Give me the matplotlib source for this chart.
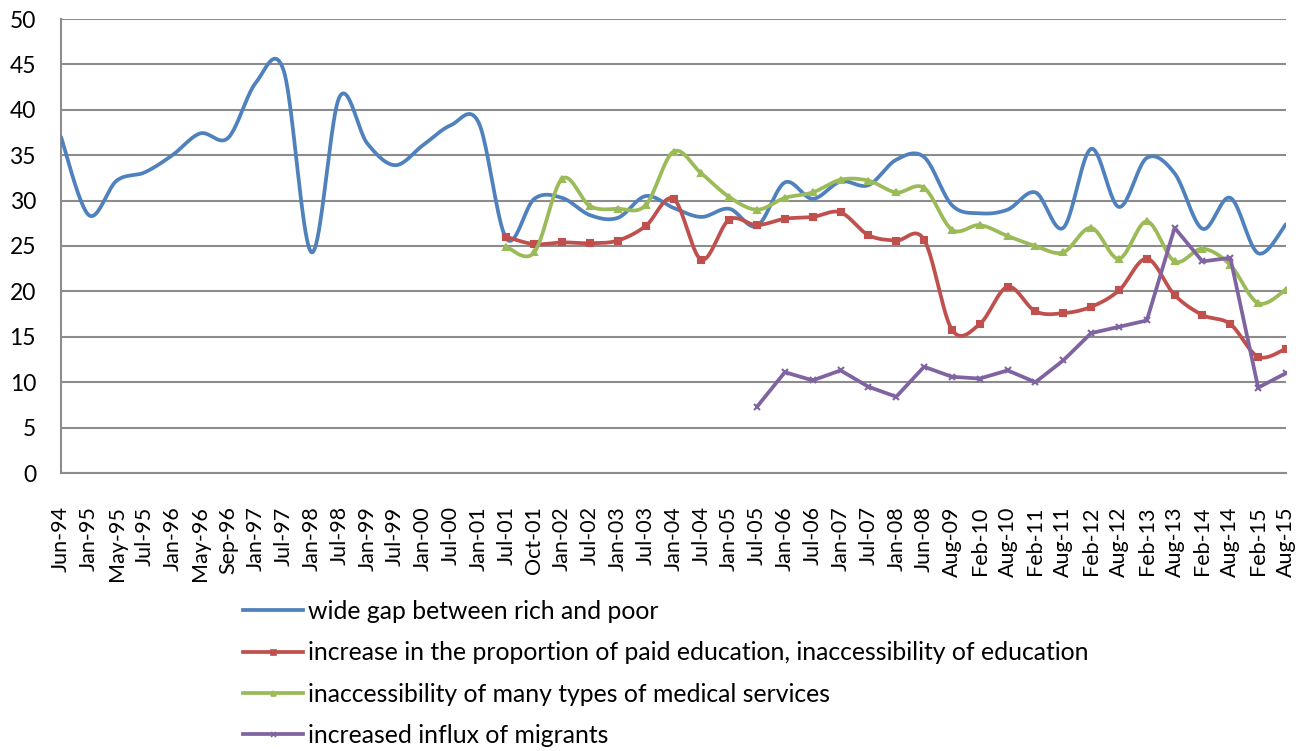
import numpy as np
import matplotlib
matplotlib.use("Agg")
import matplotlib.pyplot as plt
from matplotlib.lines import Line2D

labels = ["Jun-94", "Jan-95", "May-95", "Jul-95", "Jan-96", "May-96", "Sep-96", "Jan-97",
          "Jul-97", "Jan-98", "Jul-98", "Jan-99", "Jul-99", "Jan-00", "Jul-00", "Jan-01",
          "Jul-01", "Oct-01", "Jan-02", "Jul-02", "Jan-03", "Jul-03", "Jan-04", "Jul-04",
          "Jan-05", "Jul-05", "Jan-06", "Jul-06", "Jan-07", "Jul-07", "Jan-08", "Jun-08",
          "Aug-09", "Feb-10", "Aug-10", "Feb-11", "Aug-11", "Feb-12", "Aug-12", "Feb-13",
          "Aug-13", "Feb-14", "Aug-14", "Feb-15", "Aug-15"]

gap = [37.0, 28.4, 32.2, 33.1, 35.0, 37.4, 36.9, 43.0, 44.3, 24.3, 41.4, 36.3, 33.9, 36.1,
       38.3, 38.6, 25.8, 30.2, 30.3, 28.4, 28.1, 30.5, 29.2, 28.2, 29.1, 27.2, 32.0, 30.2,
       32.1, 31.7, 34.5, 34.8, 29.5, 28.6, 29.0, 30.9, 27.0, 35.7, 29.3, 34.7, 33.0, 26.9,
       30.3, 24.2, 27.4]

education = [None] * 16 + [26.0, 25.2, 25.4, 25.3, 25.6, 27.2, 30.2, 23.5, 27.9, 27.3, 28.0,
                           28.2, 28.7, 26.2, 25.6, 25.7, 15.8, 16.4, 20.5, 17.8, 17.6, 18.3,
                           20.1, 23.6, 19.6, 17.4, 16.4, 12.8, 13.7]

medical = [None] * 16 + [24.9, 24.3, 32.4, 29.4, 29.1, 29.5, 35.4, 33.0, 30.4, 29.0, 30.3,
                         30.9, 32.3, 32.2, 30.9, 31.4, 26.8, 27.3, 26.1, 25.0, 24.3, 27.0,
                         23.6, 27.7, 23.3, 24.7, 22.9, 18.7, 20.2]

migrants = [None] * 25 + [7.3, 11.1, 10.2, 11.3, 9.5, 8.4, 11.7, 10.6, 10.4, 11.3, 10.0,
                          12.4, 15.4, 16.1, 16.8, 27.0, 23.3, 23.7, 9.4, 11.0]

names = ["wide gap between rich and poor",
         "increase in the proportion of paid education, inaccessibility of education",
         "inaccessibility of many types of medical services",
         "increased influx of migrants"]


def smooth(xs, ys, n=24):
    xs = np.asarray(xs, float)
    ys = np.asarray(ys, float)
    px = np.concatenate([[xs[0]], xs, [xs[-1]]])
    py = np.concatenate([[ys[0]], ys, [ys[-1]]])
    ox, oy = [], []
    t = np.linspace(0, 1, n, endpoint=False)
    for i in range(1, len(px) - 2):
        p0x, p1x, p2x, p3x = px[i - 1], px[i], px[i + 1], px[i + 2]
        p0y, p1y, p2y, p3y = py[i - 1], py[i], py[i + 1], py[i + 2]
        c1x = p1x + (p2x - p0x) / 6.0
        c1y = p1y + (p2y - p0y) / 6.0
        c2x = p2x - (p3x - p1x) / 6.0
        c2y = p2y - (p3y - p1y) / 6.0
        b0 = (1 - t) ** 3
        b1 = 3 * (1 - t) ** 2 * t
        b2 = 3 * (1 - t) * t ** 2
        b3 = t ** 3
        ox.append(b0 * p1x + b1 * c1x + b2 * c2x + b3 * p2x)
        oy.append(b0 * p1y + b1 * c1y + b2 * c2y + b3 * p2y)
    ox.append([xs[-1]])
    oy.append([ys[-1]])
    return np.concatenate(ox), np.concatenate(oy)


def series_xy(vals):
    xs = [i for i, v in enumerate(vals) if v is not None]
    ys = [v for v in vals if v is not None]
    return xs, ys


plt.rcParams['font.family'] = ['Lato', 'DejaVu Sans']

fig = plt.figure(figsize=(13.06, 7.51), dpi=100)
ax = fig.add_axes([61 / 1306, 1 - 473 / 751, (1286 - 61) / 1306, (473 - 19) / 751])

colors = ["#4F81BD", "#C0504D", "#9BBB59", "#8064A2"]
markers = [None, "s", "^", "x"]
msizes = [0, 4.5, 4.5, 4.5]
lw = 2.7

handles = []
for k, vals in enumerate([gap, education, medical, migrants]):
    xs, ys = series_xy(vals)
    if k < 3:
        sx, sy = smooth(xs, ys)
    else:
        sx, sy = xs, ys
    ax.plot(sx, sy, color=colors[k], lw=lw, solid_capstyle='round', zorder=3 + k)
    if markers[k]:
        ax.plot(xs, ys, ls='none', marker=markers[k], ms=msizes[k], color=colors[k],
                mec=colors[k], mew=1.5, zorder=3 + k)
    handles.append(Line2D([], [], color=colors[k], lw=lw, marker=markers[k],
                          ms=msizes[k] * 0.8, mew=1.2))

ax.set_xlim(0, len(labels) - 1)
ax.set_ylim(0, 50)
ax.set_yticks(range(0, 51, 5))
ax.set_xticks(range(len(labels)))
ax.set_xticklabels(labels, rotation=90, fontsize=15.5)
ax.tick_params(axis='y', labelsize=16.5, length=0, pad=18)
ax.tick_params(axis='x', length=0, pad=24)
ax.yaxis.grid(True, color="#8C8C8C", lw=1.5)
ax.set_axisbelow(True)
for s in ['top', 'right']:
    ax.spines[s].set_visible(False)
for s in ['left', 'bottom']:
    ax.spines[s].set_color("#8C8C8C")
    ax.spines[s].set_linewidth(1.5)

fig.legend(handles, names, loc='upper left', bbox_to_anchor=(243 / 1306, 1 - 600 / 751),
           frameon=False, fontsize=17.8, handlelength=2.42, handletextpad=0.2,
           labelspacing=0.74, borderaxespad=0, borderpad=0)

fig.savefig("out.png", dpi=100)
